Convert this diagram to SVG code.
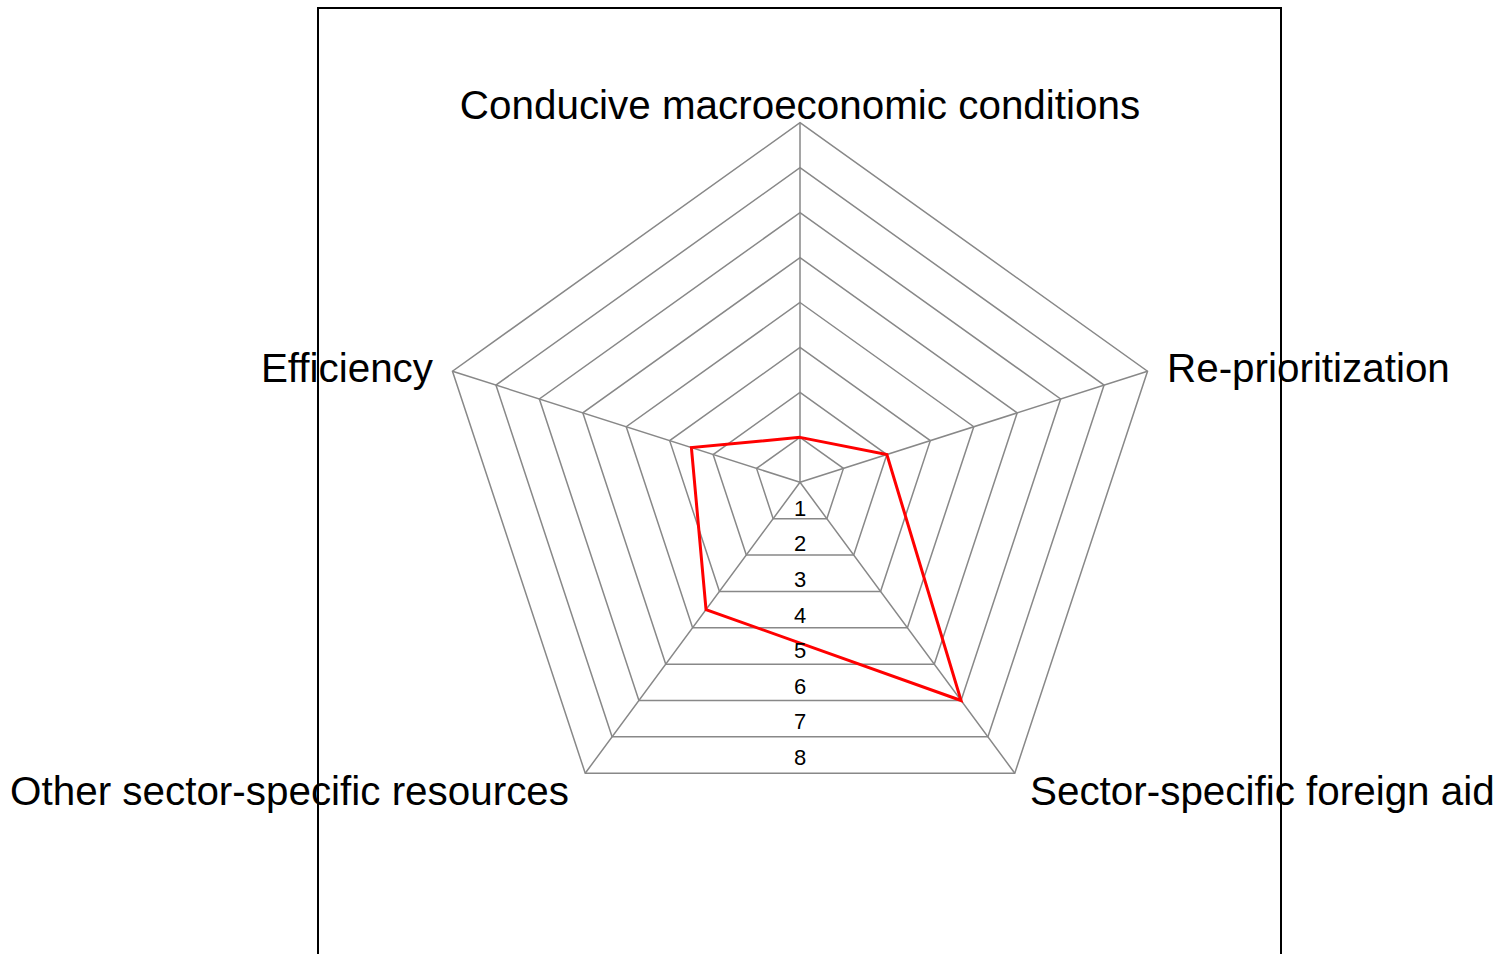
<svg xmlns="http://www.w3.org/2000/svg" width="1498" height="954" viewBox="0 0 1498 954">
<style>
.grid{fill:none;stroke:#888888;stroke-width:1.5}
.series{fill:none;stroke:#ff0000;stroke-width:3;stroke-linejoin:miter}
.axis{font-family:"Liberation Sans",Arial,sans-serif;font-size:40.4px;fill:#000}
.tick{font-family:"Liberation Sans",Arial,sans-serif;font-size:22px;fill:#000;text-anchor:middle}
</style>
<rect width="1498" height="954" fill="#ffffff"/>
<rect id="frame" x="318" y="8" width="963" height="1000" fill="none" stroke="#000" stroke-width="2"/>
<g id="grid">
<polygon class="grid" points="800,437.35 843.44,468.41 826.85,518.67 773.15,518.67 756.56,468.41"/>
<polygon class="grid" points="800,392.4 886.88,454.52 853.69,555.03 746.31,555.03 713.12,454.52"/>
<polygon class="grid" points="800,347.45 930.32,440.63 880.54,591.4 719.46,591.4 669.68,440.63"/>
<polygon class="grid" points="800,302.5 973.76,426.74 907.39,627.76 692.61,627.76 626.24,426.74"/>
<polygon class="grid" points="800,257.55 1017.2,412.85 934.24,664.13 665.76,664.13 582.8,412.85"/>
<polygon class="grid" points="800,212.6 1060.64,398.95 961.08,700.49 638.92,700.49 539.36,398.95"/>
<polygon class="grid" points="800,167.65 1104.08,385.06 987.93,736.86 612.07,736.86 495.92,385.06"/>
<polygon class="grid" points="800,122.7 1147.52,371.17 1014.78,773.22 585.22,773.22 452.48,371.17"/>
</g>
<g id="spokes">
<path class="grid" d="M800,482.3 L800,122.7 M800,482.3 L1147.52,371.17 M800,482.3 L1014.78,773.22 M800,482.3 L585.22,773.22 M800,482.3 L452.48,371.17"/>
</g>
<g id="series">
<polygon class="series" points="800,437.35 886.88,454.52 961.08,700.49 706.04,609.58 691.4,447.57"/>
</g>
<g id="ticks">
<text class="tick" x="800" y="515.7">1</text>
<text class="tick" x="800" y="551.3">2</text>
<text class="tick" x="800" y="586.9">3</text>
<text class="tick" x="800" y="622.5">4</text>
<text class="tick" x="800" y="658.1">5</text>
<text class="tick" x="800" y="693.7">6</text>
<text class="tick" x="800" y="729.3">7</text>
<text class="tick" x="800" y="764.9">8</text>
</g>
<g id="label-top"><text class="axis" x="800" y="119" text-anchor="middle">Conducive macroeconomic conditions</text></g>
<g id="label-right"><text class="axis" x="1167" y="382">Re-prioritization</text></g>
<g id="label-bottom-right"><text class="axis" x="1030" y="805">Sector-specific foreign aid</text></g>
<g id="label-bottom-left"><text class="axis" x="569" y="805" text-anchor="end">Other sector-specific resources</text></g>
<g id="label-left"><text class="axis" x="433" y="382" text-anchor="end">Efficiency</text></g>
</svg>
